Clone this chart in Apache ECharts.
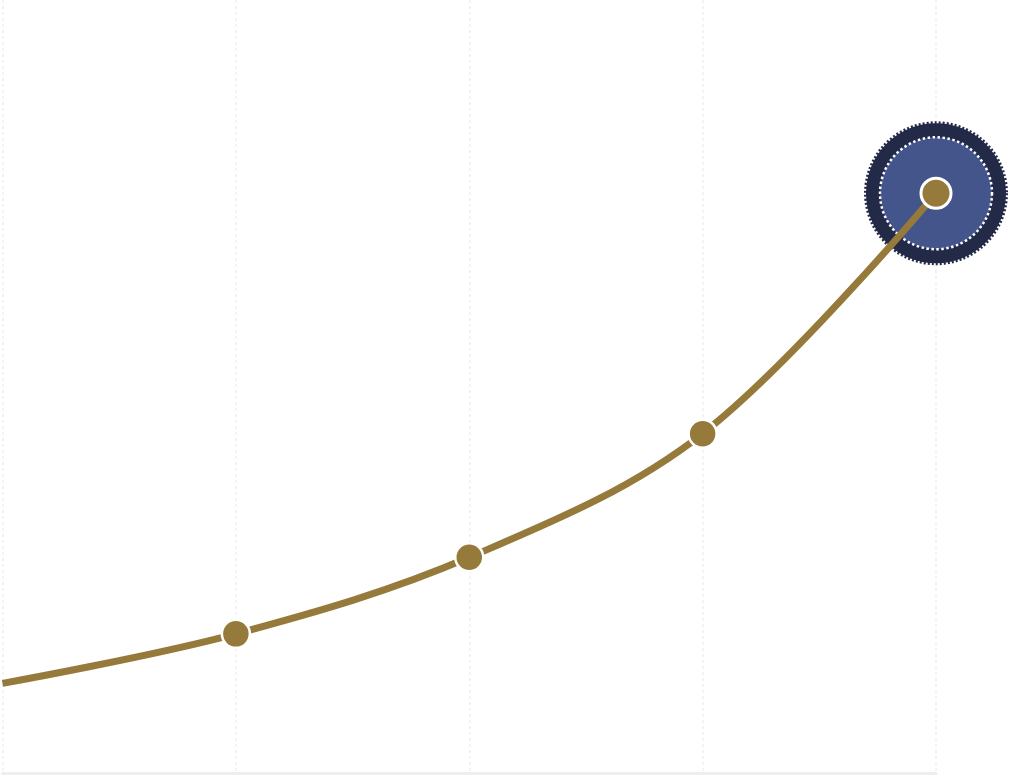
<!DOCTYPE html>
<html>
<head>
<meta charset="utf-8">
<script src="https://cdn.jsdelivr.net/npm/echarts@6/dist/echarts.min.js"></script>
<style>
  html, body { margin: 0; padding: 0; background: #fff; }
  #main { width: 1013px; height: 776px; }
</style>
</head>
<body>
<div id="main"></div>
<script>
// categories (labels hidden in the picture)
const categories = ['P1', 'P2', 'P3', 'P4', 'P5']
// line values
const values = [11.6, 18.0, 27.9, 43.9, 75.0]
// which point gets the big highlight
const highlightIndex = 4

const chart = echarts.init(document.getElementById('main'))

const last = [categories[highlightIndex], values[highlightIndex]]

chart.setOption({
  animation: false,
  grid: { left: 2.5, right: 77, top: 0, bottom: 3 },
  xAxis: {
    type: 'category',
    data: categories,
    boundaryGap: false,
    axisLabel: { show: false },
    axisTick: { show: false },
    axisLine: { show: true, lineStyle: { color: '#eeeeee', width: 3 } },
    splitLine: { show: true, lineStyle: { color: '#f3f3f3', width: 2, type: [3, 3] } }
  },
  yAxis: {
    type: 'value',
    min: 0,
    max: 100,
    show: false,
    splitLine: { show: false }
  },
  series: [
    {
      // big highlight circles behind the line
      type: 'scatter',
      z: 1,
      silent: true,
      data: [
        {
          value: last,
          symbolSize: 140,
          itemStyle: { color: '#222a48', opacity: 1, borderColor: '#222a48', borderWidth: 4, borderType: [2, 2] }
        },
        {
          value: last,
          symbolSize: 112,
          itemStyle: { color: '#43558a', opacity: 1, borderColor: '#ffffff', borderWidth: 2.5, borderType: [2.5, 2.5] }
        }
      ]
    },
    {
      type: 'line',
      z: 3,
      data: values.map((v, i) => ({
        value: v,
        symbolSize: i === 0 ? 0 : (i === highlightIndex ? 30 : 28),
        itemStyle: { borderWidth: i === highlightIndex ? 3 : 2.5 }
      })),
      smooth: 0.35,
      symbol: 'circle',
      showSymbol: true,
      lineStyle: { color: '#967a3c', width: 7 },
      itemStyle: { color: '#967a3c', borderColor: '#ffffff', borderWidth: 2.5 }
    }
  ]
})
</script>
</body>
</html>
